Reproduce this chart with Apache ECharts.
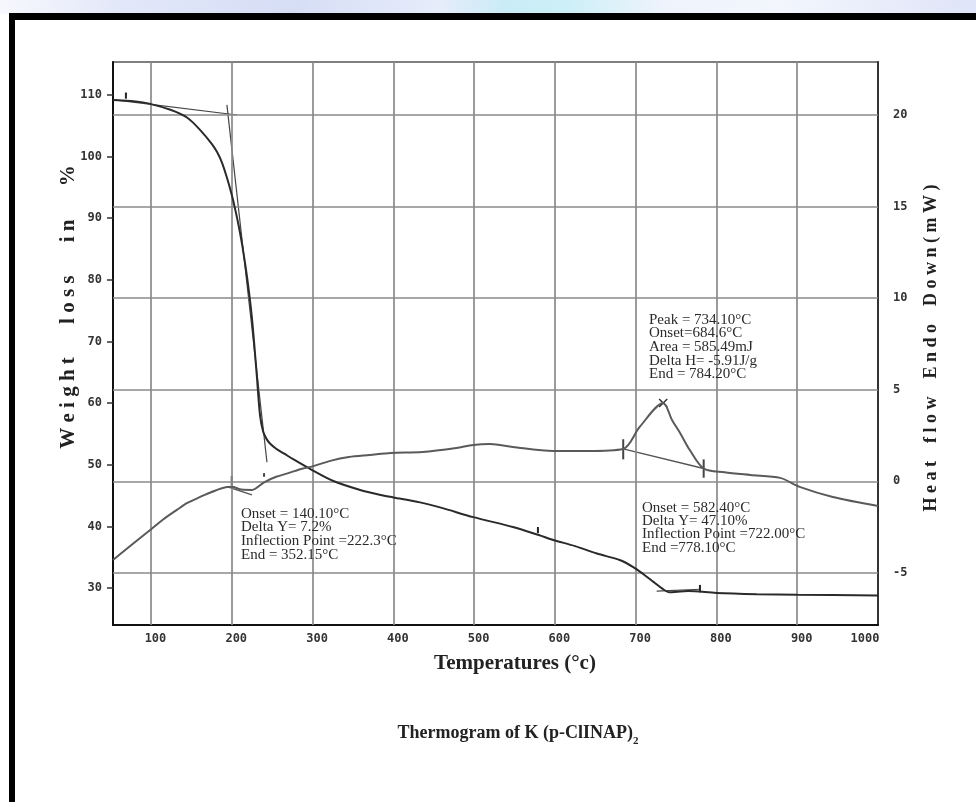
<!DOCTYPE html>
<html>
<head>
<meta charset="utf-8">
<title>Thermogram of K (p-ClINAP)2</title>
<script src="https://cdn.jsdelivr.net/npm/echarts@6/dist/echarts.min.js"></script>
<style>
  html, body { margin: 0; padding: 0; background: #ffffff; }
  #chart { width: 976px; height: 802px; }
</style>
</head>
<body>
<div id="chart"></div>
<script>
// Axis ticks
const tempTicks = [100, 200, 300, 400, 500, 600, 700, 800, 900, 1000];
const weightTicks = [30, 40, 50, 60, 70, 80, 90, 100, 110];
const heatTicks = [-5, 0, 5, 10, 15, 20];

// TGA trace: temperature (°C) and weight (%)
const tgaTemp = [53, 90, 124, 145, 161, 175, 182, 188, 194, 200,
  204, 209, 213, 219, 225, 231, 235, 239, 243, 247,
  255, 265, 276, 300, 325, 359, 384, 400, 433, 460,
  499, 548, 580, 598, 625, 652, 681, 697, 710, 722,
  733, 742, 752, 765, 800, 850, 900, 1000];
const tgaWeight = [109.2, 108.8, 107.6, 106.3, 104.3, 102.1, 100.7, 99.0, 96.6, 93.8,
  91.6, 88.5, 85.6, 80.4, 73.8, 64.5, 58.0, 55.3, 54.2, 53.5,
  52.6, 51.8, 50.9, 49.1, 47.4, 45.9, 45.1, 44.7, 43.9, 43.0,
  41.5, 39.9, 38.6, 37.8, 36.8, 35.6, 34.5, 33.4, 32.2, 31.0,
  29.9, 29.3, 29.4, 29.5, 29.2, 29.0, 28.9, 28.8];

// DSC trace: temperature (°C) and heat flow (mW)
const dscTemp = [53, 75, 99, 115, 132, 145, 161, 175, 194, 200,
  212, 225, 240, 255, 270, 288, 300, 322, 345, 371,
  397, 436, 478, 499, 520, 548, 598, 640, 684.6, 705,
  734.1, 745, 755, 767, 784.2, 810, 842, 879, 903, 944,
  1000];
const dscHeat = [-4.29, -3.5, -2.65, -2.08, -1.56, -1.18, -0.85, -0.58, -0.31, -0.3,
  -0.45, -0.47, -0.05, 0.25, 0.45, 0.7, 0.82, 1.12, 1.33, 1.44,
  1.55, 1.6, 1.82, 1.99, 2.04, 1.88, 1.66, 1.66, 1.77, 2.97,
  4.28, 3.35, 2.64, 1.71, 0.7, 0.5, 0.35, 0.19, -0.3, -0.85,
  -1.34];

// Construction lines from the analysis: [[T1, y1], [T2, y2]]
const tgaTangents = [
  [[55, 109.2], [206.5, 106.75]],
  [[194, 108.4], [243.6, 50.4]],
  [[726, 29.5], [780, 29.8]]
];
const dscTangents = [
  [[195, -0.3], [225, -0.74]],
  [[684.6, 1.77], [784.2, 0.7]]
];
// Short vertical marks: [T, yLow, yHigh]
const tgaMarks = [[69, 109.4, 110.4], [579, 38.9, 39.9], [779.6, 29.3, 30.5]];
const dscMarks = [[200, -0.2, 0.3], [240, 0.25, 0.45], [684.6, 1.2, 2.3], [784.2, 0.2, 1.2]];
const dscPeak = [734.1, 4.28];

// Result boxes
const stepOneNotes = ['Onset = 140.10°C', 'Delta Y= 7.2%', 'Inflection Point =222.3°C', 'End = 352.15°C'];
const peakNotes = ['Peak = 734.10°C', 'Onset=684.6°C', 'Area = 585.49mJ', 'Delta H= -5.91J/g', 'End = 784.20°C'];
const stepTwoNotes = ['Onset = 582.40°C', 'Delta Y= 47.10%', 'Inflection Point =722.00°C', 'End =778.10°C'];

const chart = echarts.init(document.getElementById('chart'), null, { renderer: 'canvas' });

const tickFont = { fontFamily: 'DejaVu Sans Mono', fontWeight: 'bold', fontSize: 12, color: '#333' };
const gridColor = '#8a8a8a';

function pairs(xs, ys) { return xs.map((x, i) => [x, ys[i]]); }

function segmentSeries(segs, yAxisIndex, color, width) {
  return segs.map(s => ({
    type: 'line', xAxisIndex: 0, yAxisIndex: yAxisIndex, data: s,
    showSymbol: false, symbol: 'none', silent: true, z: 4,
    lineStyle: { color: color, width: width }
  }));
}
function markSegs(marks) { return marks.map(m => [[m[0], m[1]], [m[0], m[2]]]); }

// small "x" at the exotherm peak
const dx = 5, dy = 0.22;
const peakCross = [
  [[dscPeak[0] - dx, dscPeak[1] - dy], [dscPeak[0] + dx, dscPeak[1] + dy]],
  [[dscPeak[0] - dx, dscPeak[1] + dy], [dscPeak[0] + dx, dscPeak[1] - dy]]
];

// widen a title: small gap between letters, wider gap between words
function spaced(s, letterGap, wordGap) {
  return s.split(' ').map(w => Array.from(w).join(letterGap)).join(wordGap);
}

const noteFont = '15px "Liberation Serif"';
const noteColor = '#2b2b2b';

const option = {
  animation: false,
  backgroundColor: '#ffffff',
  grid: { left: 113, top: 62, right: 98, bottom: 177, show: true, borderColor: '#555', borderWidth: 1.5, backgroundColor: 'transparent' },
  xAxis: {
    type: 'value', min: 53, max: 1000,
    axisLine: { show: true, onZero: false, lineStyle: { color: '#111', width: 2 } },
    axisTick: { show: false },
    splitLine: { show: false },
    axisLabel: {
      customValues: tempTicks, margin: 8, ...tickFont,
      formatter: v => (v === 1000 ? '{e|1000}' : '{n|' + v + '}'),
      rich: {
        n: { ...tickFont, padding: [0, 0, 0, 9] },
        e: { ...tickFont, padding: [0, 26, 0, 0] }
      }
    }
  },
  yAxis: [
    {
      type: 'value', min: 24, max: 115.35, position: 'left',
      axisLine: { show: true, onZero: false, lineStyle: { color: '#111', width: 2 } },
      axisTick: { show: true, customValues: weightTicks, length: 6, lineStyle: { color: '#333', width: 1.5 } },
      axisLabel: { customValues: weightTicks, margin: 11, ...tickFont },
      splitLine: { show: false }
    },
    {
      type: 'value', min: -7.84, max: 22.89, position: 'right',
      axisLine: { show: true, onZero: false, lineStyle: { color: '#333', width: 2 } },
      axisTick: { show: false },
      axisLabel: { customValues: heatTicks, margin: 15, ...tickFont },
      splitLine: { show: false }
    }
  ],
  series: [
    {
      // chart-paper grid
      type: 'line', xAxisIndex: 0, yAxisIndex: 1, data: [], silent: true, z: 1,
      markLine: {
        silent: true, symbol: 'none', label: { show: false }, animation: false,
        lineStyle: { color: gridColor, width: 1.7, type: 'solid' },
        emphasis: { disabled: true },
        data: tempTicks.filter(t => t < 1000).map(t => ({ xAxis: t }))
          .concat(heatTicks.map(h => ({ yAxis: h })))
      }
    },
    {
      name: 'Weight', type: 'line', xAxisIndex: 0, yAxisIndex: 0,
      data: pairs(tgaTemp, tgaWeight), showSymbol: false, symbol: 'none',
      smooth: 0.3, z: 5,
      lineStyle: { color: '#2a2a2a', width: 2 }
    },
    {
      name: 'Heat flow', type: 'line', xAxisIndex: 0, yAxisIndex: 1,
      data: pairs(dscTemp, dscHeat), showSymbol: false, symbol: 'none',
      smooth: 0.3, z: 5,
      lineStyle: { color: '#5a5a5a', width: 2 }
    },
    ...segmentSeries(tgaTangents, 0, '#444', 1.2),
    ...segmentSeries(dscTangents, 1, '#555', 1.4),
    ...segmentSeries(markSegs(tgaMarks), 0, '#222', 2),
    ...segmentSeries(markSegs(dscMarks), 1, '#444', 2),
    ...segmentSeries(peakCross, 1, '#333', 1.5)
  ],
  graphic: [
    // soft blue strip behind the page edge
    {
      type: 'rect', z: 0, shape: { x: 0, y: 0, width: 976, height: 14 },
      style: {
        fill: new echarts.graphic.LinearGradient(0, 0, 1, 0, [
          { offset: 0, color: '#f7f8fd' },
          { offset: 0.12, color: '#e3e8f9' },
          { offset: 0.3, color: '#d6def6' },
          { offset: 0.45, color: '#e6ecfa' },
          { offset: 0.52, color: '#c9ecf6' },
          { offset: 0.58, color: '#cdeff7' },
          { offset: 0.68, color: '#eef3fc' },
          { offset: 0.8, color: '#f3f6fd' },
          { offset: 1, color: '#dfe4f8' }
        ])
      }
    },
    // page frame
    { type: 'rect', z: 100, shape: { x: 9, y: 13, width: 967, height: 7 }, style: { fill: '#000' } },
    { type: 'rect', z: 100, shape: { x: 9, y: 13, width: 6, height: 789 }, style: { fill: '#000' } },
    // axis titles
    {
      type: 'text', z: 50, x: 69, y: 307, rotation: Math.PI / 2,
      style: { text: spaced('Weight loss in %', '\u2005', ' \u2002\u2002\u2004'), font: 'bold 21px "Liberation Serif"', fill: '#222', align: 'center', verticalAlign: 'middle' }
    },
    {
      type: 'text', z: 50, x: 931, y: 348, rotation: Math.PI / 2,
      style: { text: spaced('Heat flow Endo Down(mW)', '\u2005', ' \u2002\u2005'), font: 'bold 18px "Liberation Serif"', fill: '#222', align: 'center', verticalAlign: 'middle' }
    },
    {
      type: 'text', z: 50, x: 515, y: 664,
      style: { text: 'Temperatures (°c)', font: 'bold 21px "Liberation Serif"', fill: '#222', align: 'center', verticalAlign: 'middle' }
    },
    {
      type: 'text', z: 50, x: 518, y: 733,
      style: {
        text: '{m|Thermogram of K (p-ClINAP)}{s|2}', align: 'center', verticalAlign: 'middle',
        rich: {
          m: { font: 'bold 18px "Liberation Serif"', fill: '#222' },
          s: { font: 'bold 11px "Liberation Serif"', fill: '#222', padding: [16, 0, 0, 0] }
        }
      }
    },
    // result boxes
    {
      type: 'text', z: 50, x: 241, y: 507,
      style: { text: stepOneNotes.join('\n'), font: noteFont, fill: noteColor, lineHeight: 13.7, verticalAlign: 'top' }
    },
    {
      type: 'text', z: 50, x: 649, y: 313,
      style: { text: peakNotes.join('\n'), font: noteFont, fill: noteColor, lineHeight: 13.6, verticalAlign: 'top' }
    },
    {
      type: 'text', z: 50, x: 642, y: 501,
      style: { text: stepTwoNotes.join('\n'), font: noteFont, fill: noteColor, lineHeight: 13.4, verticalAlign: 'top' }
    }
  ]
};

chart.setOption(option);
</script>
</body>
</html>
